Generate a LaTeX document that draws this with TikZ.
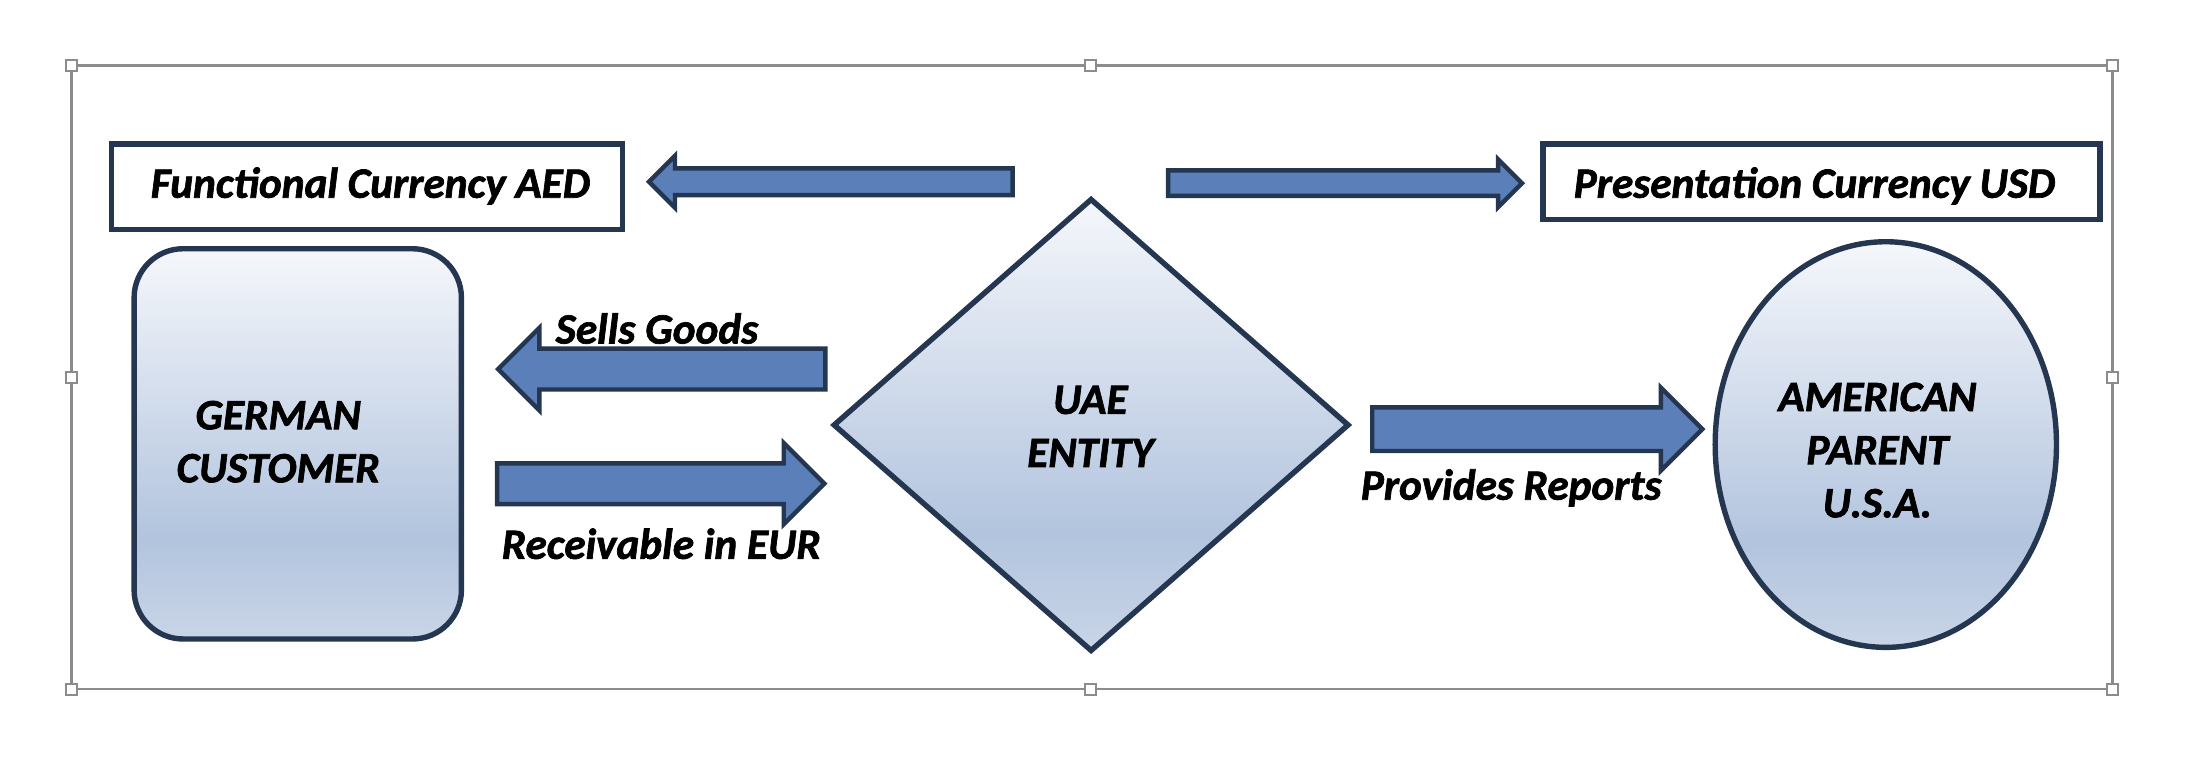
\documentclass[tikz,border=0pt]{standalone}
\usepackage{fontspec}
\setmainfont{Carlito}[BoldItalicFeatures={FakeBold=1.6}]
\usetikzlibrary{shapes.geometric, shapes.arrows}

% Define colours
\definecolor{navyLine}{HTML}{243650}
\definecolor{arrowBlue}{HTML}{5A7FB9}
\definecolor{handleGray}{HTML}{8C8C8C}
\definecolor{shadeTop}{HTML}{F5F7FB}
\definecolor{shadeMid}{HTML}{B2C4DE}
\definecolor{shadeLow}{HTML}{C9D5E7}

\pgfdeclareverticalshading{paleblue}{100bp}{color(0bp)=(shadeLow); color(25bp)=(shadeLow); color(38bp)=(shadeMid); color(75bp)=(shadeTop); color(100bp)=(shadeTop)}

\begin{document}
\begin{tikzpicture}[x=0.01cm, y=-0.01cm,
    shapebox/.style={draw=navyLine, line width=1.1pt, shading=paleblue, inner sep=0pt},
    capbox/.style={draw=navyLine, line width=1.1pt, fill=white, inner sep=0pt},
    bigtext/.style={font=\fontsize{8.8}{10.8}\selectfont\bfseries\itshape, align=center},
    blockarrow/.style={single arrow, draw=navyLine, fill=arrowBlue, line width=0.9pt, inner xsep=0pt, anchor=tail},
    handle/.style={draw=handleGray, fill=white, line width=0.4pt, minimum size=0.08cm, inner sep=0pt}]

  \useasboundingbox (0,0) rectangle (1568,545);

  % Draw the selection frame and its handles
  \draw[handleGray, line width=0.5pt] (51,47) rectangle (1511,493);
  \foreach \hx/\hy in {51/47, 780/47, 1511/47, 51/270, 1511/270, 51/493, 780/493, 1511/493}
    \node[handle] at (\hx,\hy) {};

  % Currency boxes
  \node[capbox, minimum width=3.65cm, minimum height=0.61cm] (aedBox) at (262.5,133.5) {};
  \node[bigtext] at (265,133) {Functional Currency AED};
  \node[capbox, minimum width=3.98cm, minimum height=0.54cm] (usdBox) at (1303,130) {};
  \node[bigtext] at (1298,133) {Presentation Currency USD};

  % Main entities
  \node[shapebox, rounded corners=0.35cm, minimum width=2.34cm, minimum height=2.79cm] (german) at (213,317.5) {};
  \node[bigtext] at (199,316) {GERMAN\\CUSTOMER};
  \node[shapebox, diamond, minimum width=3.69cm, minimum height=3.24cm] (uae) at (780.5,304) {};
  \node[bigtext] at (780,305) {UAE\\ENTITY};
  \node[shapebox, ellipse, minimum width=2.44cm, minimum height=2.9cm] (parent) at (1349,318) {};
  \node[bigtext] at (1343,322) {AMERICAN\\PARENT\\U.S.A.};

  % Block arrows, placed by their tails
  \node[blockarrow, shape border rotate=180, minimum height=2.6cm, inner ysep=0.08cm, single arrow head extend=0.09cm] (aedArrow) at (726,130) {};
  \node[blockarrow, minimum height=2.53cm, inner ysep=0.075cm, single arrow head extend=0.08cm] (usdArrow) at (834,131) {};
  \node[blockarrow, shape border rotate=180, minimum height=2.34cm, inner ysep=0.13cm, single arrow head extend=0.15cm] (sellsArrow) at (592,264) {};
  \node[blockarrow, minimum height=2.34cm, inner ysep=0.13cm, single arrow head extend=0.145cm] (recvArrow) at (354,346) {};
  \node[blockarrow, minimum height=2.36cm, inner ysep=0.14cm, single arrow head extend=0.14cm] (reportArrow) at (980,307) {};

  % Arrow labels
  \node[bigtext] at (470,235) {Sells Goods};
  \node[bigtext] at (473,389) {Receivable in EUR};
  \node[bigtext] at (1081,349) {Provides Reports};

\end{tikzpicture}
\end{document}
